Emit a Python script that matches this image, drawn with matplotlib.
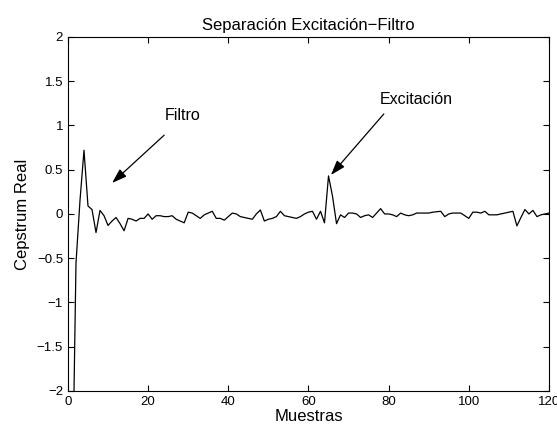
import matplotlib
matplotlib.use("Agg")
import matplotlib.pyplot as plt
import numpy as np

plt.rcParams['font.family'] = ['Liberation Sans', 'DejaVu Sans']

# real cepstrum, samples 1..120
muestras = np.arange(1, 121)
cepstrum = [
    -3.5, -0.56, 0.15, 0.72, 0.09, 0.05, -0.21, 0.04, -0.02, -0.13,
    -0.08, -0.04, -0.11, -0.19, -0.05, -0.06, -0.08, -0.05, -0.05, 0.00,
    -0.06, -0.02, -0.02, -0.03, -0.03, -0.02, -0.06, -0.08, -0.10, 0.02,
    0.01, -0.02, -0.05, -0.01, 0.01, 0.03, -0.05, -0.05, -0.07, -0.03,
    0.01, 0.00, -0.03, -0.04, -0.05, -0.06, 0.00, 0.045, -0.08, -0.06,
    -0.05, -0.03, 0.03, -0.02, -0.03, -0.04, -0.05, -0.03, 0.00, 0.02,
    0.03, -0.06, 0.03, -0.10, 0.43, 0.20, -0.11, -0.01, -0.04, 0.01,
    0.01, 0.00, -0.04, -0.02, -0.01, -0.04, 0.01, 0.06, 0.00, 0.00,
    -0.01, -0.03, 0.01, -0.01, -0.02, -0.01, 0.01, 0.01, 0.01, 0.01,
    0.02, 0.025, 0.03, -0.03, 0.00, 0.01, 0.01, 0.01, -0.02, -0.05,
    0.02, 0.02, 0.01, 0.03, -0.01, -0.01, -0.01, 0.00, 0.01, 0.02,
    0.03, -0.135, -0.04, 0.05, 0.00, 0.04, -0.03, -0.01, 0.00, 0.01,
]

xticks = [0, 20, 40, 60, 80, 100, 120]
yticks = [-2, -1.5, -1, -0.5, 0, 0.5, 1, 1.5, 2]

fig = plt.figure(figsize=(5.57, 4.32), dpi=100)
ax = fig.add_axes([0.122, 0.095, 0.8636, 0.8195])
ax.plot(muestras, cepstrum, color='k', lw=0.9)

ax.set_xlim(0, 120)
ax.set_ylim(-2, 2)
ax.set_xticks(xticks)
ax.set_yticks(yticks)
ax.set_yticklabels(['\u22122', '\u22121.5', '\u22121', '\u22120.5', '0', '0.5', '1', '1.5', '2'])
ax.tick_params(direction='in', top=True, right=True, labelsize=9.5, length=4, width=0.8)
for s in ax.spines.values():
    s.set_linewidth(0.8)

ax.set_xlabel('Muestras', fontsize=12, labelpad=1)
ax.set_ylabel('Cepstrum Real', fontsize=12, labelpad=5)
ax.set_title('Separación Excitación\u2212Filtro', fontsize=12, pad=5)

arrow = dict(arrowstyle='-|>,head_length=0.9,head_width=0.3', color='k', lw=0.9,
             shrinkA=0, shrinkB=0)
ax.annotate('', xy=(11, 0.35), xytext=(24, 0.89), arrowprops=arrow)
ax.text(28.7, 1.11, 'Filtro', fontsize=11.5, ha='center', va='center')
ax.annotate('', xy=(65.6, 0.44), xytext=(78.8, 1.13), arrowprops=arrow)
ax.text(86.8, 1.29, 'Excitación', fontsize=11.5, ha='center', va='center')

fig.savefig('out.png', dpi=100)
